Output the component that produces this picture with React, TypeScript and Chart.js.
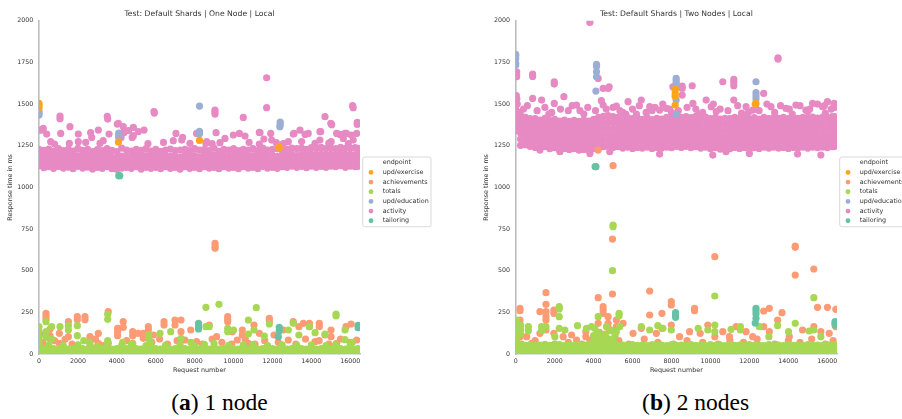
import React, { useEffect, useRef } from "react";
import { Chart, registerables } from "chart.js";
Chart.register(...registerables);

// ---------- shared ----------
const SERIES = ["upd/exercise", "achievements", "totals", "upd/education", "activity", "tailoring"];
const SERIES_COLORS = ["#ffa41c", "#fc9b74", "#a6d854", "#9daed4", "#e78ac3", "#66c2a5"];
const DRAW_ORDER = [0, 4, 3, 1, 5, 2]; // lower = drawn on top
const X_TICKS = [0, 2000, 4000, 6000, 8000, 10000, 12000, 14000, 16000];
const Y_TICKS = [0, 250, 500, 750, 1000, 1250, 1500, 1750, 2000];
const X_MAX = 16500;
const Y_MAX = 2000;

// ---------- (a) one node ----------
const A_EXERCISE = [[0, 1504], [0, 1490], [0, 1476], [4080, 1272], [8250, 1282], [12350, 1240]];
const A_EDUCATION = [[0, 1454], [0, 1444], [0, 1434], [4100, 1326], [4100, 1312], [4100, 1300], [8250, 1488], [8250, 1336], [8250, 1322], [12400, 1392], [12400, 1378], [12380, 1364]];
const A_TAILORING = [[4100, 1070], [4150, 1070], [8200, 184], [8200, 164], [8200, 150], [12350, 160], [12350, 140], [12300, 104], [16400, 172], [16400, 158]];
const A_ACHIEVEMENTS = [
  [360, 244], [360, 228], [360, 210], [565, 150], [565, 110], [565, 90], [1045, 124], [1045, 64], [1510, 194], [1510, 104], [1340, 88],
  [1970, 224], [1970, 206], [2365, 224], [2365, 206], [2620, 104], [2620, 74], [2620, 54], [3050, 124], [3050, 64], [3560, 254], [3560, 64],
  [4040, 154], [4040, 134], [4040, 110], [4330, 194], [4330, 160], [4815, 134], [4815, 110], [4815, 64], [5100, 124], [5360, 124], [5360, 94],
  [5620, 164], [5620, 144], [5880, 114], [6425, 194], [6425, 174], [6990, 204], [6990, 174], [7300, 204], [7300, 134], [7500, 84], [7800, 144],
  [8100, 74], [8750, 174], [9050, 664], [9050, 648], [9050, 634], [9130, 104], [9700, 224], [9700, 206], [9700, 194], [9935, 134], [10190, 84],
  [10450, 144], [10450, 114], [10760, 64], [11050, 174], [11325, 124], [11840, 214], [11840, 200], [12080, 114], [12560, 144], [12815, 84],
  [13070, 194], [13360, 164], [13590, 184], [13900, 184], [13900, 164], [14190, 74], [14410, 184], [14410, 164], [14700, 114], [15010, 144],
  [15010, 104], [15300, 64], [15780, 164], [16040, 180], [16330, 84],
  [200, 70], [800, 80], [1700, 60], [2900, 90], [3300, 50], [4500, 80], [5800, 70], [6200, 90], [6600, 60], [7100, 80], [8400, 60], [8900, 90],
  [9400, 70], [9900, 60], [10600, 90], [11100, 60], [11600, 80], [12300, 70], [13200, 60], [13700, 90], [14400, 80], [14900, 60], [15500, 90], [16000, 70]
];
const A_TOTALS = [
  [0, 164], [0, 134], [0, 104], [0, 74], [360, 194], [360, 134], [360, 100], [650, 164], [650, 90], [1080, 164], [1510, 170], [1510, 144],
  [1970, 170], [1970, 110], [2300, 80], [2600, 70], [3530, 238], [3530, 208], [3530, 80], [4300, 70], [4800, 60], [5650, 114], [5650, 90],
  [6220, 124], [6770, 134], [7300, 94], [7800, 70], [8580, 280], [8580, 164], [8750, 164], [9250, 298], [9700, 134], [9700, 154], [10000, 144],
  [10760, 204], [10760, 120], [11050, 144], [11170, 278], [11580, 108], [11840, 180], [12815, 144], [13070, 184], [13360, 114], [13900, 164],
  [14190, 128], [14700, 120], [15270, 240], [15270, 228], [15730, 144], [15730, 86], [16100, 70]
];
const A_TOTALS_BAND = [
  [0, 8, 30, 55], [250, 8, 32], [500, 10, 30, 52], [750, 8, 32], [1000, 8, 30], [1250, 10, 32, 50], [1500, 8, 30], [1750, 8, 32], [2000, 10, 30, 55],
  [2250, 8, 32], [2500, 8, 30], [2750, 10, 32], [3000, 8, 30, 48], [3250, 8, 32], [3500, 10, 30, 58], [3750, 8, 30], [4000, 8, 32], [4250, 10, 30, 52],
  [4500, 8, 32], [4750, 8, 30, 60], [5000, 10, 32], [5250, 8, 30], [5500, 8, 32, 50], [5750, 10, 30, 62], [6000, 8, 32], [6250, 8, 30], [6500, 10, 32, 52],
  [6750, 8, 30], [7000, 8, 32], [7250, 10, 30, 55], [7500, 8, 32], [7750, 8, 30], [8000, 10, 32, 50], [8250, 8, 30], [8500, 8, 32, 58], [8750, 10, 30],
  [9000, 8, 32, 62], [9250, 8, 30], [9500, 10, 32], [9750, 8, 30, 52], [10000, 8, 32], [10250, 10, 30], [10500, 8, 32, 55], [10750, 8, 30],
  [11000, 10, 32, 58], [11250, 8, 30], [11500, 8, 32], [11750, 10, 30, 50], [12000, 8, 32], [12250, 8, 30], [12500, 10, 32, 55], [12750, 8, 30],
  [13000, 8, 32], [13250, 10, 30, 52], [13500, 8, 32], [13750, 8, 30], [14000, 10, 32, 55], [14250, 8, 30], [14500, 8, 32], [14750, 10, 30, 50],
  [15000, 8, 32], [15250, 8, 30, 58], [15500, 10, 32], [15750, 8, 30], [16000, 8, 32, 52], [16250, 10, 30], [16400, 8, 32]
];
const A_ACTIVITY = [
  [50, 120], [0, 1344], [140, 1344], [220, 1354], [395, 1320], [600, 1274], [1080, 1428], [1080, 1412], [1115, 1324], [1560, 1264], [1590, 1364],
  [2020, 1320], [2020, 1274], [2655, 1328], [2710, 1300], [3050, 1344], [3135, 1264], [3510, 1426], [3530, 1410], [3600, 1320], [4025, 1380],
  [4080, 1384], [4220, 1300], [4333, 1364], [4370, 1330], [4610, 1340], [4790, 1300], [4850, 1360], [4850, 1310], [5105, 1334], [5400, 1344],
  [5910, 1454], [5930, 1446], [7040, 1324], [7335, 1284], [7380, 1300], [7760, 1264], [8100, 1324], [8580, 1264], [8620, 1274], [9046, 1464],
  [9046, 1452], [9046, 1440], [9100, 1328], [9300, 1268], [9560, 1294], [9990, 1314], [10300, 1324], [10500, 1420], [10590, 1308], [11325, 1330],
  [11325, 1260], [11360, 1328], [11560, 1290], [11700, 1658], [11700, 1478], [11910, 1324], [11960, 1284], [12560, 1262], [12815, 1274],
  [13070, 1320], [13110, 1324], [13415, 1344], [13680, 1318], [13840, 1324], [14190, 1264], [14440, 1284], [14440, 1334], [14480, 1334],
  [14700, 1424], [15000, 1384], [15020, 1274], [15045, 1376], [15300, 1324], [15470, 1318], [15640, 1294], [15730, 1324], [15800, 1324],
  [16050, 1314], [16120, 1490], [16150, 1478], [16150, 1284], [16330, 1324], [16360, 1390], [16360, 1378],
  [800, 1260], [2400, 1270], [3300, 1280], [5600, 1262], [6400, 1270], [6900, 1280], [8900, 1262], [10800, 1270], [12200, 1268], [13500, 1275],
  [14900, 1265], [15900, 1262]
];
const A_ACTIVITY_BAND = [
  [0, 1130, 1160, 1195, 1228], [250, 1118, 1152, 1186, 1222], [500, 1124, 1158, 1192, 1230], [750, 1114, 1148, 1182, 1216],
  [1000, 1126, 1160, 1196, 1232], [1250, 1116, 1150, 1184, 1220], [1500, 1122, 1156, 1192, 1228], [1750, 1112, 1146, 1180, 1218],
  [2000, 1126, 1158, 1190, 1234], [2250, 1116, 1150, 1186, 1222], [2500, 1122, 1160, 1196, 1228], [2750, 1110, 1142, 1176, 1214],
  [3000, 1120, 1154, 1190, 1226], [3250, 1114, 1150, 1184, 1220], [3500, 1124, 1158, 1194, 1232], [3750, 1112, 1146, 1180, 1222],
  [4000, 1108, 1140, 1176, 1214], [4250, 1116, 1150, 1188, 1236], [4500, 1120, 1154, 1186, 1224], [4750, 1114, 1148, 1180, 1218],
  [5000, 1124, 1158, 1194, 1228], [5250, 1110, 1146, 1184, 1222], [5500, 1120, 1154, 1190, 1232], [5750, 1114, 1148, 1182, 1218],
  [6000, 1120, 1158, 1194, 1228], [6250, 1112, 1146, 1180, 1216], [6500, 1124, 1156, 1190, 1224], [6750, 1114, 1150, 1186, 1230],
  [7000, 1120, 1154, 1188, 1220], [7250, 1110, 1146, 1180, 1224], [7500, 1124, 1158, 1194, 1228], [7750, 1114, 1150, 1184, 1220],
  [8000, 1120, 1154, 1190, 1232], [8250, 1112, 1150, 1182, 1224], [8500, 1124, 1160, 1196, 1228], [8750, 1116, 1150, 1186, 1220],
  [9000, 1120, 1158, 1194, 1236], [9250, 1112, 1146, 1180, 1216], [9500, 1124, 1156, 1190, 1228], [9750, 1116, 1150, 1186, 1224],
  [10000, 1120, 1158, 1194, 1232], [10250, 1112, 1146, 1182, 1220], [10500, 1124, 1160, 1194, 1228], [10750, 1116, 1150, 1186, 1224],
  [11000, 1120, 1156, 1190, 1232], [11250, 1112, 1150, 1184, 1220], [11500, 1126, 1160, 1196, 1236], [11750, 1116, 1150, 1186, 1224],
  [12000, 1120, 1156, 1190, 1228], [12250, 1114, 1150, 1186, 1232], [12500, 1124, 1160, 1194, 1224], [12750, 1120, 1156, 1190, 1228],
  [13000, 1128, 1164, 1198, 1236], [13250, 1120, 1156, 1190, 1232], [13500, 1126, 1160, 1198, 1236], [13750, 1118, 1154, 1190, 1228],
  [14000, 1128, 1164, 1198, 1238], [14250, 1120, 1158, 1194, 1232], [14500, 1126, 1160, 1198, 1240], [14750, 1120, 1156, 1194, 1232],
  [15000, 1128, 1164, 1198, 1236], [15250, 1124, 1160, 1194, 1232], [15500, 1130, 1164, 1202, 1240], [15750, 1120, 1158, 1194, 1234],
  [16000, 1128, 1164, 1198, 1236], [16250, 1124, 1160, 1196, 1238], [16400, 1126, 1162, 1198, 1234]
];

// ---------- (b) two nodes ----------
const B_EXERCISE = [[8190, 1590], [8190, 1578], [8190, 1560], [8190, 1546], [8190, 1494], [12340, 1504], [12300, 1500]];
const B_EDUCATION = [
  [0, 1798], [0, 1788], [0, 1772], [0, 1745], [0, 1734], [4150, 1738], [4150, 1726], [4150, 1694], [4150, 1664], [4120, 1578],
  [8240, 1654], [8240, 1640], [8240, 1628], [8240, 1616], [8240, 1604], [8240, 1524], [8240, 1438], [12340, 1634], [12340, 1568], [12340, 1548], [12340, 1530]
];
const B_TAILORING = [[4080, 1124], [4120, 1124], [8210, 248], [8210, 234], [8210, 220], [12340, 274], [12340, 258], [12340, 240], [12340, 214], [12300, 186], [16400, 194], [16400, 184], [16400, 174]];
const B_ACHIEVEMENTS = [
  [220, 274], [220, 260], [220, 204], [220, 144], [220, 104], [560, 104], [820, 64], [1245, 254], [1245, 124], [1555, 368], [1555, 298], [1555, 254],
  [1555, 224], [1555, 204], [1555, 144], [1960, 264], [1960, 244], [1960, 124], [2440, 104], [2870, 114], [3125, 84], [3600, 134], [3600, 104],
  [3810, 84], [4235, 338], [4235, 184], [4235, 1224], [4490, 284], [4490, 264], [4490, 244], [4745, 224], [4745, 184], [4970, 360], [4970, 690],
  [5000, 1130], [5170, 204], [5170, 164], [5515, 184], [6025, 124], [6450, 154], [6880, 378], [6880, 234], [7220, 124], [7510, 244], [7510, 154],
  [7990, 314], [7990, 294], [7990, 174], [8415, 104], [8930, 134], [9185, 274], [9185, 260], [9475, 124], [9865, 174], [10225, 584], [10225, 104],
  [10635, 134], [10975, 104], [11320, 164], [11830, 134], [12170, 104], [12735, 258], [12735, 164], [13025, 274], [13025, 134], [13450, 204],
  [13675, 248], [14050, 104], [14355, 648], [14355, 640], [14355, 474], [14730, 144], [15310, 510], [15310, 164], [15500, 280], [15670, 134],
  [16010, 280], [16100, 124], [16440, 268], [16440, 164],
  [300, 60], [1000, 80], [2000, 60], [2700, 70], [3400, 60], [4100, 90], [4300, 130], [4600, 110], [4800, 150], [5300, 80], [5800, 60], [6600, 90],
  [7300, 70], [8100, 60], [8800, 80], [9600, 70], [10400, 60], [11000, 80], [11700, 70], [12400, 90], [13300, 60], [14000, 80], [14600, 70],
  [15200, 90], [15900, 60], [16300, 80]
];
const B_TOTALS = [
  [50, 204], [50, 174], [50, 144], [50, 114], [50, 84], [256, 174], [256, 150], [256, 120], [650, 164], [650, 140], [1330, 164], [1330, 140],
  [1555, 164], [2010, 104], [2235, 284], [2235, 270], [2235, 224], [2235, 154], [2525, 144], [3175, 170], [3635, 154], [3890, 164], [4235, 224],
  [4060, 154], [4660, 164], [4970, 500], [5000, 774], [5000, 764], [5170, 134], [5310, 244], [5310, 230], [5340, 164], [6450, 164], [6880, 144],
  [7300, 170], [7560, 154], [7990, 144], [9370, 154], [9865, 144], [10225, 348], [10225, 174], [10225, 134], [11060, 148], [11540, 164],
  [11540, 144], [12510, 164], [13000, 104], [13450, 170], [14010, 134], [14355, 184], [15070, 138], [15310, 338], [15310, 144], [15670, 104],
  [4000, 110], [4200, 130], [4400, 100], [4600, 120], [4800, 90], [4900, 140], [5100, 110]
];
const B_TOTALS_BAND = [
  [0, 10, 32, 54, 76], [250, 10, 32, 54], [500, 8, 30, 52], [750, 10, 32, 56], [1000, 8, 30, 50], [1250, 10, 32, 54], [1500, 8, 30, 58],
  [1750, 10, 32, 52], [2000, 8, 30, 54], [2250, 10, 32, 56], [2500, 8, 30, 50], [2750, 10, 32, 54], [3000, 8, 30, 52], [3250, 10, 32, 56],
  [3500, 8, 30, 54], [3750, 10, 32, 58], [4000, 10, 32, 56, 78], [4250, 8, 30, 54, 80], [4500, 10, 32, 58, 82], [4750, 8, 30, 56, 78],
  [5000, 10, 32, 54, 76], [5250, 8, 30, 52], [5500, 10, 32, 54], [5750, 8, 30, 50], [6000, 10, 32, 56], [6250, 8, 30, 52], [6500, 10, 32, 54],
  [6750, 8, 30, 50], [7000, 10, 32, 56], [7250, 8, 30, 52], [7500, 10, 32, 54], [7750, 8, 30, 50], [8000, 10, 32, 56], [8250, 8, 30, 52],
  [8500, 10, 32, 54], [8750, 8, 30, 50], [9000, 10, 32, 56], [9250, 8, 30, 52], [9500, 10, 32, 54], [9750, 8, 30, 50], [10000, 10, 32, 56],
  [10250, 8, 30, 52], [10500, 10, 32, 54], [10750, 8, 30, 50], [11000, 10, 32, 56], [11250, 8, 30, 52], [11500, 10, 32, 54], [11750, 8, 30, 50],
  [12000, 10, 32, 56], [12250, 8, 30, 52], [12500, 10, 32, 54], [12750, 8, 30, 50], [13000, 10, 32, 56], [13250, 8, 30, 52], [13500, 10, 32, 54],
  [13750, 8, 30, 50], [14000, 10, 32, 56], [14250, 8, 30, 52], [14500, 10, 32, 54], [14750, 8, 30, 50], [15000, 10, 32, 56], [15250, 8, 30, 52],
  [15500, 10, 32, 54], [15750, 8, 30, 50], [16000, 10, 32, 56], [16250, 8, 30, 52], [16400, 10, 32, 54]
];
const B_ACTIVITY = [
  [50, 1694], [50, 1680], [50, 1664], [30, 1550], [60, 1530], [80, 1500], [870, 1680], [870, 1666], [870, 1534], [1330, 1524], [1980, 1634],
  [1980, 1620], [1980, 1504], [2475, 1544], [3125, 1494], [3810, 1990], [4235, 1654], [4490, 1594], [4750, 1594], [4800, 1604], [4490, 1494],
  [5170, 1488], [5770, 1514], [6450, 1524], [6880, 1484], [7390, 1464], [7730, 1474], [8550, 1608], [8550, 1594], [8550, 1554], [8070, 1604],
  [9065, 1610], [9100, 1504], [9780, 1524], [10040, 1484], [10635, 1634], [11200, 1648], [11200, 1630], [11200, 1610], [11200, 1524],
  [11830, 1484], [12170, 1464], [12735, 1564], [13110, 1484], [13470, 1778], [13470, 1770], [13880, 1474], [14390, 1494], [14900, 1464],
  [15245, 1504], [15760, 1484], [16010, 1514], [16350, 1504], [16350, 1490],
  [1245, 1224], [2270, 1214], [3810, 1204], [4830, 1214], [7390, 1200], [10120, 1194], [10800, 1214], [12000, 1204], [14475, 1200], [15670, 1194],
  [200, 1450], [1700, 1440], [2700, 1460], [3500, 1440], [5500, 1450], [6200, 1440], [7000, 1460], [8000, 1450], [9400, 1440], [10300, 1455],
  [11600, 1445], [12500, 1460], [13300, 1450], [14200, 1440], [15000, 1455], [15900, 1445],
  [400, 1470], [600, 1490], [1100, 1460], [1500, 1480], [1850, 1450], [2300, 1470], [2900, 1490], [3300, 1460], [3700, 1480], [4100, 1460],
  [4400, 1520], [4650, 1470], [5000, 1480], [5350, 1460], [5650, 1440], [6000, 1470], [6350, 1490], [6700, 1450], [7150, 1480], [7550, 1500],
  [7900, 1470], [8350, 1460], [8800, 1480], [9250, 1470], [9600, 1450], [10150, 1500], [10500, 1470], [10900, 1460], [11400, 1490],
  [11950, 1450], [12350, 1470], [12900, 1500], [13600, 1490], [14050, 1470], [14600, 1490], [15100, 1470], [15500, 1500], [15850, 1490],
  [16200, 1470], [16400, 1480]
];
const B_ACTIVITY_BAND = [
  [0, 1340, 1372, 1404, 1436, 1470, 1505], [250, 1252, 1290, 1326, 1362, 1398, 1432], [500, 1256, 1290, 1322, 1354, 1388, 1420],
  [750, 1246, 1282, 1316, 1350, 1384, 1412], [1000, 1240, 1276, 1310, 1344, 1378, 1412], [1250, 1236, 1272, 1306, 1340, 1372, 1404],
  [1500, 1244, 1278, 1312, 1346, 1380, 1414], [1750, 1232, 1266, 1300, 1336, 1370, 1400], [2000, 1238, 1272, 1306, 1340, 1374, 1408],
  [2250, 1228, 1262, 1298, 1332, 1366, 1398], [2500, 1234, 1268, 1302, 1336, 1370, 1404], [2750, 1228, 1262, 1296, 1330, 1364, 1396],
  [3000, 1232, 1266, 1300, 1334, 1368, 1402], [3250, 1224, 1258, 1292, 1328, 1362, 1396], [3500, 1228, 1264, 1298, 1332, 1366, 1404],
  [3750, 1226, 1260, 1294, 1330, 1364, 1398], [4000, 1232, 1268, 1302, 1336, 1372, 1408], [4250, 1240, 1276, 1312, 1348, 1384, 1420],
  [4500, 1244, 1280, 1316, 1352, 1388, 1426], [4750, 1246, 1282, 1318, 1354, 1392, 1430], [5000, 1240, 1276, 1312, 1350, 1388, 1424],
  [5250, 1244, 1280, 1316, 1352, 1388, 1420], [5500, 1236, 1272, 1308, 1344, 1380, 1414], [5750, 1242, 1278, 1312, 1348, 1384, 1418],
  [6000, 1234, 1270, 1306, 1342, 1378, 1412], [6250, 1240, 1276, 1310, 1346, 1380, 1416], [6500, 1236, 1272, 1306, 1340, 1374, 1408],
  [6750, 1242, 1278, 1312, 1348, 1384, 1420], [7000, 1234, 1270, 1304, 1338, 1372, 1406], [7250, 1240, 1276, 1310, 1346, 1380, 1414],
  [7500, 1236, 1270, 1304, 1340, 1376, 1410], [7750, 1242, 1278, 1314, 1350, 1386, 1420], [8000, 1238, 1274, 1308, 1344, 1380, 1416],
  [8250, 1246, 1282, 1318, 1354, 1390, 1426], [8500, 1240, 1276, 1312, 1348, 1384, 1420], [8750, 1246, 1282, 1316, 1352, 1388, 1424],
  [9000, 1238, 1274, 1310, 1346, 1382, 1418], [9250, 1244, 1280, 1316, 1352, 1388, 1426], [9500, 1236, 1272, 1308, 1344, 1380, 1416],
  [9750, 1242, 1278, 1314, 1350, 1386, 1422], [10000, 1232, 1268, 1304, 1340, 1376, 1412], [10250, 1238, 1274, 1310, 1346, 1382, 1418],
  [10500, 1230, 1266, 1302, 1338, 1374, 1410], [10750, 1236, 1272, 1308, 1344, 1380, 1414], [11000, 1232, 1268, 1304, 1340, 1376, 1412],
  [11250, 1240, 1276, 1312, 1348, 1384, 1420], [11500, 1234, 1270, 1306, 1342, 1378, 1414], [11750, 1240, 1276, 1312, 1348, 1384, 1418],
  [12000, 1232, 1268, 1304, 1340, 1376, 1410], [12250, 1238, 1274, 1310, 1346, 1382, 1418], [12500, 1234, 1270, 1306, 1342, 1376, 1410],
  [12750, 1242, 1278, 1314, 1350, 1386, 1420], [13000, 1236, 1272, 1306, 1342, 1378, 1412], [13250, 1242, 1278, 1314, 1348, 1384, 1418],
  [13500, 1236, 1272, 1308, 1344, 1380, 1414], [13750, 1240, 1276, 1312, 1348, 1384, 1420], [14000, 1234, 1270, 1306, 1342, 1378, 1412],
  [14250, 1240, 1276, 1312, 1348, 1384, 1418], [14500, 1236, 1272, 1308, 1344, 1380, 1414], [14750, 1242, 1278, 1314, 1350, 1386, 1420],
  [15000, 1236, 1272, 1308, 1344, 1380, 1416], [15250, 1242, 1278, 1314, 1350, 1386, 1422], [15500, 1238, 1274, 1310, 1346, 1382, 1416],
  [15750, 1242, 1278, 1314, 1350, 1386, 1420], [16000, 1238, 1274, 1310, 1346, 1382, 1418], [16250, 1244, 1280, 1316, 1352, 1388, 1424],
  [16400, 1246, 1282, 1318, 1354, 1390, 1424]
];

// ---------- helpers ----------
const pts = (list: number[][]) => list.map(([x, y]) => ({ x, y }));
const band = (cols: number[][]) => cols.flatMap(([x, ...ys]) => ys.map((y) => ({ x, y })));

const FONT = "DejaVu Sans";
const TEXT = "#333333";

const legendPlugin = {
  id: "endpointLegend",
  afterDraw(chart: any) {
    const { ctx, chartArea } = chart;
    const left = chartArea.right + 2.7;
    const width = 68.3;
    const height = 69.7;
    const top = chartArea.top + 136.3;
    const rowH = 9.67;
    ctx.save();
    ctx.beginPath();
    const r = 2;
    ctx.moveTo(left + r, top);
    ctx.arcTo(left + width, top, left + width, top + height, r);
    ctx.arcTo(left + width, top + height, left, top + height, r);
    ctx.arcTo(left, top + height, left, top, r);
    ctx.arcTo(left, top, left + width, top, r);
    ctx.closePath();
    ctx.fillStyle = "rgba(255,255,255,0.85)";
    ctx.fill();
    ctx.strokeStyle = "#d9d9d9";
    ctx.lineWidth = 1;
    ctx.stroke();
    ctx.font = `6.4px "${FONT}"`;
    ctx.textBaseline = "middle";
    ctx.textAlign = "left";
    ctx.fillStyle = TEXT;
    ctx.fillText("endpoint", left + 20, top + 5.7);
    SERIES.forEach((name, i) => {
      const y = top + 5.7 + rowH * (i + 1);
      ctx.beginPath();
      ctx.arc(left + 8.3, y, 2.4, 0, Math.PI * 2);
      ctx.fillStyle = SERIES_COLORS[i];
      ctx.fill();
      ctx.fillStyle = TEXT;
      ctx.fillText(name, left + 20, y);
    });
    ctx.restore();
  },
};

function makeConfig(title: string, seriesData: { x: number; y: number }[][], yAxisWidth: number, yTitlePad: number, rightPad: number): any {
  return {
    type: "scatter",
    data: {
      datasets: SERIES.map((name, i) => ({
        label: name,
        data: seriesData[i],
        backgroundColor: SERIES_COLORS[i],
        borderWidth: 0,
        pointRadius: 3.6,
        pointHoverRadius: 3.6,
        order: DRAW_ORDER[i],
      })),
    },
    options: {
      responsive: false,
      animation: false,
      events: [],
      layout: { padding: { left: 0, top: 0, right: rightPad, bottom: 0 } },
      plugins: {
        legend: { display: false },
        tooltip: { enabled: false },
        title: {
          display: true,
          text: title,
          fullSize: false,
          color: TEXT,
          font: { family: FONT, size: 7.7, weight: "normal" },
          padding: { top: 9, bottom: 2.5 },
        },
      },
      scales: {
        x: {
          type: "linear",
          min: 0,
          max: X_MAX,
          grid: { display: false, drawTicks: false },
          border: { display: true, color: "#bdbdbd", width: 1.6 },
          afterBuildTicks: (s: any) => {
            s.ticks = X_TICKS.map((v) => ({ value: v }));
          },
          afterFit: (s: any) => {
            s.height = 26;
          },
          ticks: {
            color: TEXT,
            font: { family: FONT, size: 6.3 },
            padding: 4,
            maxRotation: 0,
            autoSkip: false,
            callback: (v: any) => String(v),
          },
          title: {
            display: true,
            text: "Request number",
            color: TEXT,
            font: { family: FONT, size: 6.4 },
            padding: { top: 0, bottom: 5.5 },
          },
        },
        y: {
          type: "linear",
          min: 0,
          max: Y_MAX,
          grid: { display: false, drawTicks: false },
          border: { display: true, color: "#bdbdbd", width: 1.6 },
          afterBuildTicks: (s: any) => {
            s.ticks = Y_TICKS.map((v) => ({ value: v }));
          },
          afterFit: (s: any) => {
            s.width = yAxisWidth;
          },
          ticks: {
            color: TEXT,
            font: { family: FONT, size: 6.3 },
            padding: 5.7,
            autoSkip: false,
            callback: (v: any) => String(v),
          },
          title: {
            display: true,
            text: "Response time in ms",
            color: TEXT,
            font: { family: FONT, size: 6.4 },
            padding: { top: yTitlePad, bottom: 0 },
          },
        },
      },
    },
    plugins: [legendPlugin],
  };
}

function ScatterPanel(props: { left: number; width: number; config: any }) {
  const ref = useRef<HTMLCanvasElement | null>(null);
  useEffect(() => {
    if (!ref.current) return;
    const chart = new Chart(ref.current, props.config);
    return () => chart.destroy();
  }, []);
  return (
    <canvas
      ref={ref}
      width={props.width}
      height={380}
      style={{ position: "absolute", left: props.left, top: 0, width: props.width, height: 380 }}
    />
  );
}

export default function App() {
  const aData = [
    pts(A_EXERCISE),
    pts(A_ACHIEVEMENTS),
    pts(A_TOTALS).concat(band(A_TOTALS_BAND)),
    pts(A_EDUCATION),
    pts(A_ACTIVITY).concat(band(A_ACTIVITY_BAND)),
    pts(A_TAILORING),
  ];
  const bData = [
    pts(B_EXERCISE),
    pts(B_ACHIEVEMENTS),
    pts(B_TOTALS).concat(band(B_TOTALS_BAND)),
    pts(B_EDUCATION),
    pts(B_ACTIVITY).concat(band(B_ACTIVITY_BAND)),
    pts(B_TAILORING),
  ];
  const cfgA = makeConfig("Test: Default Shards | One Node | Local", aData, 39, 7, 80);
  const cfgB = makeConfig("Test: Default Shards | Two Nodes | Local", bData, 38.7, 6, 65);
  const captionStyle: React.CSSProperties = {
    position: "absolute",
    top: 391,
    width: 220,
    textAlign: "center",
    fontFamily: '"Liberation Serif", "Times New Roman", serif',
    fontSize: 23.5,
    lineHeight: 1,
    color: "#000",
    whiteSpace: "nowrap",
  };
  return (
    <div style={{ position: "fixed", left: 0, top: 0, width: 902, height: 419, overflow: "hidden", background: "#fff" }}>
      <ScatterPanel left={0} width={440} config={cfgA} />
      <ScatterPanel left={477} width={425} config={cfgB} />
      <div style={{ ...captionStyle, left: 219.5 - 110 }}>
        (<b>a</b>) 1 node
      </div>
      <div style={{ ...captionStyle, left: 695.6 - 110 }}>
        (<b>b</b>) 2 nodes
      </div>
    </div>
  );
}
